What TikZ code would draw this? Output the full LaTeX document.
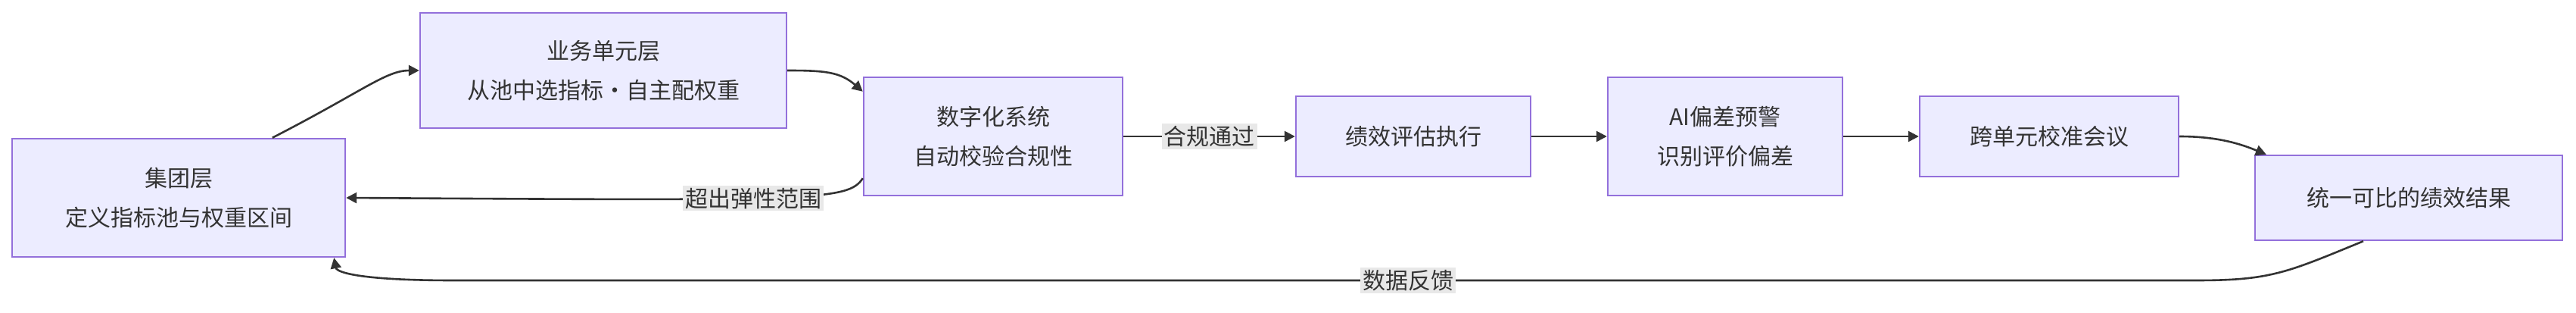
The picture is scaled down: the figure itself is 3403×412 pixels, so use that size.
\documentclass[tikz,border=0pt]{standalone}
\usepackage{fontspec}
\setmainfont{Noto Sans CJK SC}
\usetikzlibrary{arrows.meta}
\definecolor{nfill}{HTML}{ECECFF}
\definecolor{nborder}{HTML}{9370DB}
\definecolor{ln}{HTML}{333333}
\definecolor{lbg}{HTML}{E8E8E8}
\begin{document}
\begin{tikzpicture}[x=0.5pt,y=-0.5pt,
  box/.style={draw=nborder,fill=nfill,line width=1.2pt,align=center,font=\fontsize{15}{26}\selectfont,text=ln,inner sep=0pt},
  conn/.style={draw=ln,line width=1.3pt,-{Triangle[length=7pt,width=7pt]}},
  lab/.style={fill=lbg,font=\fontsize{15}{18}\selectfont,text=ln,inner sep=1.5pt}]
\useasboundingbox (0,0) rectangle (3403,412);
\node[box,minimum width=220pt,minimum height=78pt] (g) at (236,261) {集团层\\定义指标池与权重区间};
\node[box,minimum width=242pt,minimum height=76pt] (b) at (797,93) {业务单元层\\从池中选指标·自主配权重};
\node[box,minimum width=171pt,minimum height=78pt] (d) at (1312,180) {数字化系统\\自动校验合规性};
\node[box,minimum width=155pt,minimum height=53pt] (e) at (1867,180) {绩效评估执行};
\node[box,minimum width=155pt,minimum height=78pt] (a) at (2279,180) {AI偏差预警\\识别评价偏差};
\node[box,minimum width=171pt,minimum height=53pt] (c) at (2707,180) {跨单元校准会议};
\node[box,minimum width=203pt,minimum height=56pt] (u) at (3182,261) {统一可比的绩效结果};
\draw[conn] (g.north west)++(345,0) coordinate (g1) (g1) .. controls (480,120) and (510,93) .. (b.west);
\draw[conn] (b.east) .. controls (1090,93) and (1110,95) .. ([yshift=-10pt]d.north west);
\draw[conn] (d.east) -- node[lab]{合规通过} (e.west);
\draw[conn] ([yshift=12pt]d.south west) .. controls (1120,265) and (1080,265) .. node[lab,pos=0.55]{超出弹性范围} (g.east);
\draw[conn] (e.east) -- (a.west);
\draw[conn] (a.east) -- (c.west);
\draw[conn] (c.east) .. controls (2930,180) and (2960,190) .. ([xshift=8pt]u.north west);
\draw[conn] ([xshift=-30pt]u.south) .. controls (3020,360) and (3000,370) .. (2900,370) -- (600,370) coordinate (m) .. controls (480,370) and (445,360) .. ([xshift=-8pt]g.south east);
\node[lab] (fb) at (1860,370) {数据反馈};
\end{tikzpicture}
\end{document}
